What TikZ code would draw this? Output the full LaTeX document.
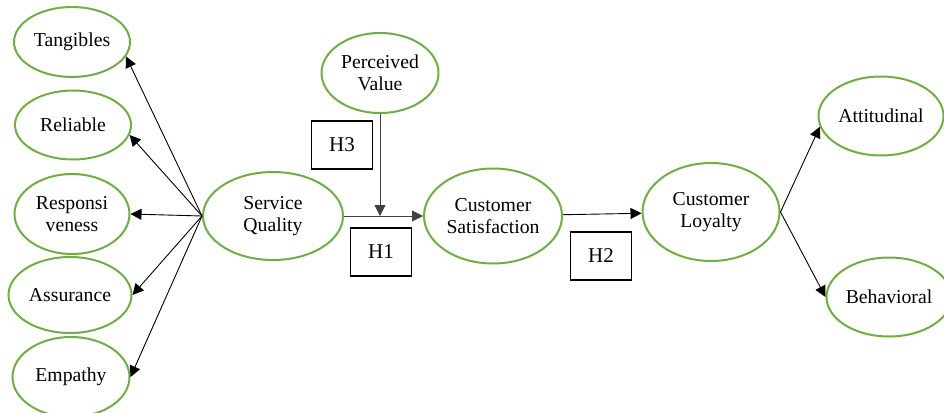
\documentclass[tikz,border=0pt]{standalone}
\usepackage{fontspec}
\setmainfont{Liberation Serif}
\usetikzlibrary{shapes.geometric,arrows.meta}
\definecolor{verde}{RGB}{112,173,71}
\tikzset{
  elipse/.style={ellipse, draw=verde, line width=2pt, inner sep=0pt, align=center,
    font=\fontsize{19.7}{22.5}\selectfont},
  caja/.style={rectangle, draw, line width=1.4pt, minimum width=61pt, minimum height=48pt,
    font=\fontsize{21}{24}\selectfont},
  flecha/.style={-{Triangle[length=11pt,width=11pt]}, line width=0.9pt},
}
\begin{document}
\begin{tikzpicture}[x=1pt,y=-1pt]
  \useasboundingbox (0,0) rectangle (944,412);

  % Dimensiones de la calidad del servicio
  \node[elipse, minimum width=116pt, minimum height=70pt] (TA) at (72,42) {Tangibles};
  \node[elipse, minimum width=116pt, minimum height=69pt] (RE) at (73,125) {Reliable};
  \node[elipse, minimum width=115pt, minimum height=80pt] (RS) at (72,214) {Responsi\\veness};
  \node[elipse, minimum width=123pt, minimum height=76pt] (AS) at (70,295) {Assurance};
  \node[elipse, minimum width=117pt, minimum height=80pt] (EM) at (71,377) {Empathy};

  % Constructos centrales
  \node[elipse, minimum width=140pt, minimum height=88pt] (SQ) at (273,216) {Service\\Quality};
  \node[elipse, minimum width=117pt, minimum height=80pt] (PV) at (380,73) {Perceived\\Value};
  \node[elipse, minimum width=138pt, minimum height=95pt] (CS) at (493,216) {Customer\\Satisfaction};
  \node[elipse, minimum width=137pt, minimum height=98pt] (CL) at (711,212) {Customer\\Loyalty};

  % Dimensiones de la lealtad
  \node[elipse, minimum width=125pt, minimum height=79pt] (AT) at (881,116) {Attitudinal};
  \node[elipse, minimum width=125pt, minimum height=79pt] (BE) at (889,297) {Behavioral};

  % Hipotesis
  \node[caja] (H3) at (342,145) {H3};
  \node[caja] (H1) at (381,252) {H1};
  \node[caja] (H2) at (601,256) {H2};

  % Flechas hacia las dimensiones
  \draw[flecha] (SQ.west) -- (TA.-15);
  \draw[flecha] (SQ.west) -- (RE.-10);
  \draw[flecha] (SQ.west) -- (RS.east);
  \draw[flecha] (SQ.west) -- (AS.east);
  \draw[flecha] (SQ.west) -- (EM.east);

  % Relaciones del modelo
  \coordinate (M) at (PV.south |- SQ.east);
  \draw[flecha, black!75] (SQ) -- (CS);
  \draw[flecha, black!75] (PV.south) -- (M);
  \draw[flecha] (CS) -- (CL);
  \draw[flecha] (CL.east) -- (AT.190);
  \draw[flecha] (CL.east) -- (BE.west);
\end{tikzpicture}
\end{document}
